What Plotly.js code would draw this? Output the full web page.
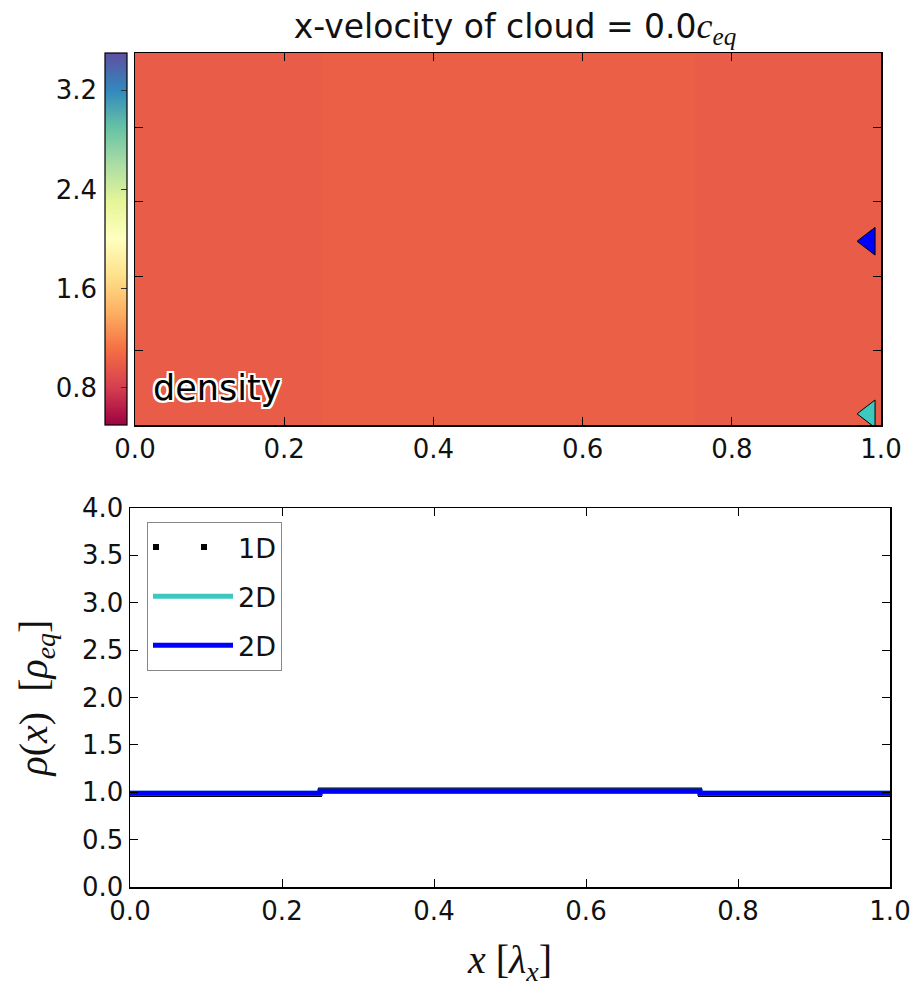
<!DOCTYPE html>
<html><head><meta charset="utf-8">
<script src="https://cdn.plot.ly/plotly-3.0.1.min.js"></script>
<style>html,body{margin:0;padding:0;background:#fff}#chart{width:915px;height:987px}</style>
</head><body><div id="chart"></div>
<script>
// ---- top panel: 2D density map ----
const gridXEdges = [0, 0.25, 0.75, 1.0];
const gridYEdges = [0, 0.25, 0.5];
const densityGrid = [
  [0.99, 1.01, 0.99],
  [0.99, 1.01, 0.99]
];
const densityMin = 0.5;
const densityMax = 3.5;
const colorbarTicks = [0.8, 1.6, 2.4, 3.2];
// slice markers (x, y location of the 2D cuts)
const sliceX = [0.984, 0.984];
const sliceY = [0.015, 0.247];
// ---- bottom panel: density profiles ----
const profileX = [0, 0.25, 0.75, 1.0];
const rho1D = [0.97, 1.03, 0.97, 0.97];
const rho2DCyan = [0.99, 1.01, 0.99, 0.99];
const rho2DBlue = [0.99, 1.01, 0.99, 0.99];
const seriesNames = ['1D', '2D', '2D'];
const xTickVals = [0, 0.2, 0.4, 0.6, 0.8, 1.0];
const yTickValsBottom = [0, 0.5, 1.0, 1.5, 2.0, 2.5, 3.0, 3.5, 4.0];
const yTickValsTop = [0, 0.1, 0.2, 0.3, 0.4, 0.5];

const cyanColor = '#3cc8be';
const blueColor = '#0000ff';
const spectral = [[0,'#9e0142'],[0.1,'#d53e4f'],[0.2,'#f46d43'],[0.3,'#fdae61'],[0.4,'#fee08b'],
  [0.5,'#ffffbf'],[0.6,'#e6f598'],[0.7,'#abdda4'],[0.8,'#66c2a5'],[0.9,'#3288bd'],[1,'#5e4fa2']];

const W = 915, H = 987;
const px = v => v / W, py = v => 1 - v / H;
const FONT = 'DejaVu Sans';
const SERIF = 'Liberation Serif';
const TICK = 26;

const data = [
  // legend-only entry for the dotted 1D series
  {x:[null], y:[null], mode:'lines', name:seriesNames[0], legendgroup:'g1',
   line:{color:'black', width:6, dash:'6px,42px'}, xaxis:'x2', yaxis:'y2', hoverinfo:'skip'},
  {type:'heatmap', x:gridXEdges, y:gridYEdges, z:densityGrid, zmin:densityMin, zmax:densityMax,
   colorscale:spectral, showlegend:false, xaxis:'x', yaxis:'y',
   colorbar:{x:px(105), xanchor:'left', xpad:0, ypad:0, thickness:22, thicknessmode:'pixels',
     len:(425-53)/H, lenmode:'fraction', y:py((53+425)/2), yanchor:'middle',
     outlinewidth:1.2, outlinecolor:'black', tickvals:colorbarTicks, showticklabels:false,
     ticks:'inside', ticklen:6, tickcolor:'#333'}},
  {type:'scatter', x:[], y:[], xaxis:'x', yaxis:'y3', showlegend:false, hoverinfo:'skip'},
  {type:'scatter', mode:'markers', x:sliceX, y:sliceY, xaxis:'x', yaxis:'y', showlegend:false,
   marker:{symbol:'triangle-left', size:24, color:[cyanColor, blueColor], line:{color:'black', width:1}}},
  // bottom panel
  {x:profileX, y:rho1D, mode:'lines', line:{shape:'hv', color:'black', width:4}, name:seriesNames[0],
   legendgroup:'g1', showlegend:false, xaxis:'x2', yaxis:'y2'},
  {x:profileX, y:rho2DCyan, mode:'lines', line:{shape:'hv', color:cyanColor, width:5}, name:seriesNames[1],
   legendgroup:'g2', xaxis:'x2', yaxis:'y2'},
  {x:profileX, y:rho2DBlue, mode:'lines', line:{shape:'hv', color:blueColor, width:5}, name:seriesNames[2],
   legendgroup:'g3', xaxis:'x2', yaxis:'y2'}
];

const axBase = {showline:true, linecolor:'black', linewidth:1.5, mirror:'ticks', ticks:'inside',
  ticklen:8, tickwidth:1, tickcolor:'black', showgrid:false, zeroline:false,
  tickfont:{family:FONT, size:TICK, color:'#111'}};

const layout = {
  width:W, height:H, margin:{l:0, r:0, t:0, b:0}, paper_bgcolor:'white', plot_bgcolor:'white',
  font:{family:FONT, color:'#111'},
  title:{text:'x-velocity of cloud = 0.0<span style="font-family:Liberation Serif;font-size:36px"><i>c</i><sub><i>eq</i></sub></span>',
    x:px(515), xanchor:'center', y:py(26), yanchor:'middle', font:{family:FONT, size:33, color:'#111'}},
  xaxis:Object.assign({}, axBase, {domain:[px(135), px(881)], range:[0,1], tickvals:xTickVals,
    tickformat:'.1f', anchor:'y'}),
  yaxis:Object.assign({}, axBase, {domain:[py(425), py(53)], range:[0,0.5], tickvals:yTickValsTop,
    showticklabels:false, anchor:'x'}),
  yaxis3:{overlaying:'y', anchor:'free', position:px(105), side:'left', range:[densityMin, densityMax],
    tickvals:colorbarTicks, tickformat:'.1f', ticks:'', showline:false, showgrid:false, zeroline:false,
    ticklabelstandoff:8, tickfont:{family:FONT, size:TICK, color:'#111'}},
  xaxis2:Object.assign({}, axBase, {domain:[px(130), px(890)], range:[0,1], tickvals:xTickVals,
    tickformat:'.1f', anchor:'y2',
    title:{text:'<i>x</i> [<i>λ<sub>x</sub></i>]', font:{family:SERIF, size:40, color:'#111'}, standoff:20}}),
  yaxis2:Object.assign({}, axBase, {domain:[py(887), py(508)], range:[0,4], tickvals:yTickValsBottom,
    tickformat:'.1f', anchor:'x2',
    title:{text:'<i>ρ</i>(<i>x</i>)&nbsp;&nbsp;[<i>ρ<sub>eq</sub></i>]', font:{family:SERIF, size:40, color:'#111'}, standoff:22}}),
  legend:{x:px(147), y:py(522), xanchor:'left', yanchor:'top', bgcolor:'white', bordercolor:'#888',
    borderwidth:1, font:{family:FONT, size:27, color:'#111'}, tracegroupgap:11, traceorder:'grouped',
    itemwidth:80},
  showlegend:true,
  annotations:[{text:'density', xref:'x', yref:'y', x:0.022, y:0.05, xanchor:'left', yanchor:'middle',
    showarrow:false, font:{family:FONT, size:35, color:'black',
    shadow:'2px 0 0 #fff, -2px 0 0 #fff, 0 2px 0 #fff, 0 -2px 0 #fff, 2px 2px 0 #fff, -2px -2px 0 #fff, 2px -2px 0 #fff, -2px 2px 0 #fff'}}]
};

Plotly.newPlot('chart', data, layout, {displayModeBar:false, staticPlot:true});
</script></body></html>
